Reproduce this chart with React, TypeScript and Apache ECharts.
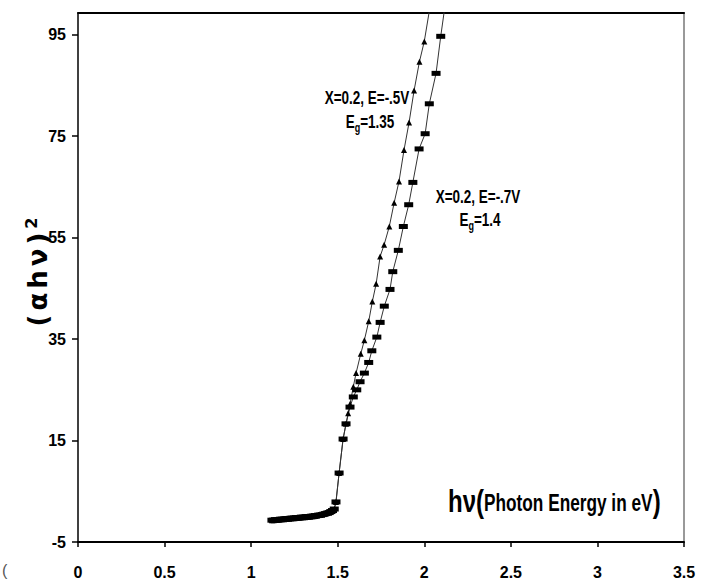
import React, { useEffect, useRef } from "react";
import * as echarts from "echarts";

// Shared low-energy part (both curves overlap)
const lowX = [1.12, 1.13, 1.14, 1.15, 1.16, 1.17, 1.18, 1.19, 1.2, 1.21, 1.22, 1.23, 1.24, 1.25, 1.26, 1.27, 1.28, 1.29, 1.3, 1.31, 1.32, 1.33, 1.34, 1.35, 1.36, 1.37, 1.38, 1.39, 1.4, 1.41, 1.42, 1.43, 1.44, 1.45, 1.46, 1.47, 1.48];
const lowY = [-0.7, -0.7, -0.6, -0.6, -0.6, -0.5, -0.5, -0.5, -0.4, -0.4, -0.4, -0.3, -0.3, -0.3, -0.2, -0.2, -0.2, -0.1, -0.1, -0.1, 0.0, 0.0, 0.0, 0.1, 0.1, 0.2, 0.2, 0.3, 0.3, 0.4, 0.5, 0.6, 0.7, 0.8, 1.0, 1.2, 1.5];

// E = -.5V (triangles) rising part
const triX = [1.49, 1.508, 1.531, 1.548, 1.56, 1.571, 1.59, 1.606, 1.633, 1.654, 1.679, 1.7, 1.722, 1.745, 1.768, 1.798, 1.826, 1.854, 1.883, 1.912, 1.941, 1.972, 2.0, 2.05];
const triY = [2.9, 8.6, 15.3, 18.3, 20.4, 22.2, 25.6, 28.3, 32.1, 34.8, 38.5, 42.4, 45.9, 51.3, 53.6, 57.2, 61.9, 66.1, 72.3, 77.7, 84.0, 89.7, 93.7, 104];

// E = -.7V (squares) rising part
const sqX = [1.49, 1.508, 1.531, 1.548, 1.571, 1.59, 1.61, 1.629, 1.654, 1.679, 1.697, 1.726, 1.745, 1.769, 1.802, 1.818, 1.85, 1.879, 1.91, 1.934, 1.97, 2.005, 2.029, 2.068, 2.095, 2.125];
const sqY = [2.9, 8.6, 15.3, 18.3, 21.6, 23.6, 25.0, 26.6, 28.3, 30.4, 32.7, 35.4, 38.3, 41.5, 44.8, 48.3, 52.5, 57.2, 61.5, 65.9, 72.5, 75.5, 81.4, 87.4, 94.7, 102];

const yTickValues = [-5, 15, 35, 55, 75, 95];
const xMin = 0;
const xMax = 3.5;
const xStep = 0.5;
const yMin = -5;
const yMax = 99.3;

const SANS = '"Liberation Sans", Arial, sans-serif';
const NARROW_SCALE = 0.75;

function pairs(xs: number[], ys: number[]) {
  return xs.map((x, i) => [x, ys[i]]);
}

export default function App() {
  const ref = useRef<HTMLDivElement>(null);
  useEffect(() => {
    if (!ref.current) return;
    const chart = echarts.init(ref.current, undefined, { renderer: "svg" });
    const triData = pairs(lowX, lowY).concat(pairs(triX, triY));
    const sqData = pairs(lowX, lowY).concat(pairs(sqX, sqY));
    const tickFont = { fontFamily: SANS, fontWeight: "bold" as const, fontSize: 16, color: "#000" };
    chart.setOption({
      animation: false,
      backgroundColor: "#fff",
      grid: { left: 78, right: 19, top: 13, bottom: 42 },
      xAxis: [
        {
          type: "value",
          min: xMin,
          max: xMax,
          interval: xStep,
          axisLine: { onZero: false, lineStyle: { color: "#000", width: 2 } },
          axisTick: { show: true, length: 5, lineStyle: { color: "#000", width: 1.5 } },
          axisLabel: { ...tickFont, margin: 22 },
          splitLine: { show: false },
        },
        {
          type: "value",
          position: "top",
          min: xMin,
          max: xMax,
          axisLine: { show: true, onZero: false, lineStyle: { color: "#000", width: 2 } },
          axisTick: { show: false },
          axisLabel: { show: false },
          splitLine: { show: false },
        },
      ],
      yAxis: [
        {
          type: "value",
          min: yMin,
          max: yMax,
          axisLine: { show: true, onZero: false, lineStyle: { color: "#000", width: 1.5 } },
          axisTick: { show: true, length: 6, customValues: yTickValues, lineStyle: { color: "#000", width: 1.5 } },
          axisLabel: { ...tickFont, margin: 12, customValues: yTickValues },
          splitLine: { show: false },
        },
        {
          type: "value",
          position: "right",
          min: yMin,
          max: yMax,
          axisLine: { show: true, onZero: false, lineStyle: { color: "#999", width: 2 } },
          axisTick: { show: false },
          axisLabel: { show: false },
          splitLine: { show: false },
        },
      ],
      series: [
        {
          type: "line",
          name: "X=0.2, E=-.5V",
          data: triData,
          clip: true,
          symbol: "triangle",
          symbolSize: 6,
          itemStyle: { color: "#000" },
          lineStyle: { color: "#333", width: 1 },
        },
        {
          type: "line",
          name: "X=0.2, E=-.7V",
          data: sqData,
          clip: true,
          symbol: "rect",
          symbolSize: [9, 5],
          itemStyle: { color: "#000" },
          lineStyle: { color: "#333", width: 1 },
        },
      ],
      graphic: [
        {
          type: "text",
          x: 38,
          y: 273,
          rotation: Math.PI / 2,
          style: {
            text: "{a|(}{a|α}{a|h}{a|ν}{a|)}{s|2}",
            align: "center",
            verticalAlign: "middle",
            rich: {
              a: { fontFamily: '"DejaVu Sans", sans-serif', fontWeight: "bold", fontSize: 26, padding: [0, 2], fill: "#000" },
              s: { fontFamily: '"DejaVu Sans", sans-serif', fontWeight: "bold", fontSize: 16, padding: [0, 0, 14, 2], fill: "#000" },
            },
          },
        },
        {
          type: "text",
          x: 367,
          y: 98,
          scaleX: NARROW_SCALE,
          style: { text: "X=0.2, E=-.5V", font: `bold 18px ${SANS}`, fill: "#000", align: "center", verticalAlign: "middle" },
        },
        {
          type: "text",
          x: 370,
          y: 122,
          scaleX: NARROW_SCALE,
          style: {
            text: "{a|E}{s|g}{a|=1.35}",
            align: "center",
            verticalAlign: "middle",
            rich: {
              a: { fontFamily: SANS, fontWeight: "bold", fontSize: 18, fill: "#000" },
              s: { fontFamily: SANS, fontWeight: "bold", fontSize: 12, padding: [10, 0, 0, 0], fill: "#000" },
            },
          },
        },
        {
          type: "text",
          x: 478,
          y: 197,
          scaleX: NARROW_SCALE,
          style: { text: "X=0.2, E=-.7V", font: `bold 18px ${SANS}`, fill: "#000", align: "center", verticalAlign: "middle" },
        },
        {
          type: "text",
          x: 480,
          y: 220,
          scaleX: NARROW_SCALE,
          style: {
            text: "{a|E}{s|g}{a|=1.4}",
            align: "center",
            verticalAlign: "middle",
            rich: {
              a: { fontFamily: SANS, fontWeight: "bold", fontSize: 18, fill: "#000" },
              s: { fontFamily: SANS, fontWeight: "bold", fontSize: 12, padding: [10, 0, 0, 0], fill: "#000" },
            },
          },
        },
        {
          type: "text",
          x: 448,
          y: 501,
          scaleX: NARROW_SCALE,
          style: {
            text: "{h|hν(}{p|Photon Energy in eV}{h|)}",
            align: "left",
            verticalAlign: "middle",
            rich: {
              h: { fontFamily: SANS, fontWeight: "bold", fontSize: 32, fill: "#000" },
              p: { fontFamily: SANS, fontWeight: "bold", fontSize: 23, padding: [5, 0, 0, 0], fill: "#000" },
            },
          },
        },
        {
          type: "text",
          x: 2,
          y: 570,
          style: { text: "(", font: `16px ${SANS}`, fill: "#555", align: "left", verticalAlign: "middle" },
        },
      ],
    });
    return () => chart.dispose();
  }, []);
  return <div ref={ref} style={{ width: 703, height: 584, position: "absolute", left: 0, top: 0 }} />;
}
